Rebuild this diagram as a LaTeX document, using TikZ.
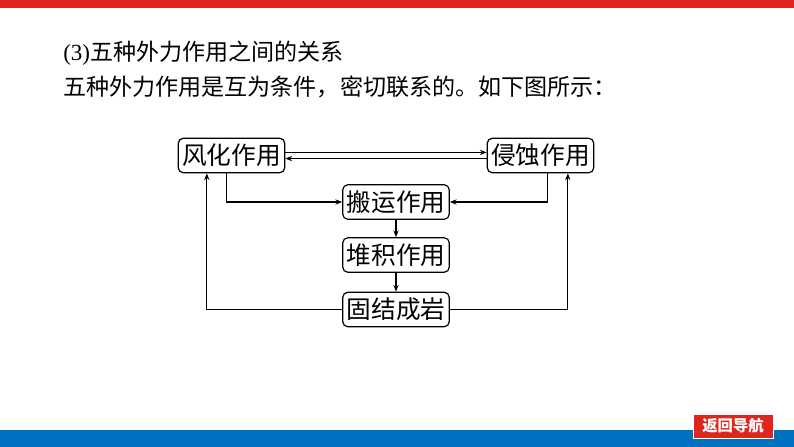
\documentclass[tikz,border=0pt]{standalone}
\usepackage{fontspec}
\setmainfont{Liberation Serif}
\newfontfamily\cjk{Noto Sans CJK SC}
\usetikzlibrary{arrows.meta,positioning}
\definecolor{barred}{RGB}{222,38,28}
\definecolor{barblue}{RGB}{0,112,192}
\tikzstyle{process}=[draw,line width=0.9pt,rounded corners=4pt,minimum width=80pt,minimum height=26pt,inner sep=1pt,font=\cjk\fontsize{18.5}{20}\selectfont]
\tikzstyle{flow} = [draw,line width=0.8pt,-{Stealth[length=5pt,width=4pt]}]
\tikzstyle{caption} = [anchor=west,inner sep=0pt,font=\fontsize{17.3}{20}\selectfont]
\tikzstyle{navbutton} = [fill=barred,draw=white,line width=0.6pt,minimum width=60pt,minimum height=18pt,inner sep=1pt,text=white,font=\cjk\bfseries\fontsize{11.5}{12}\selectfont]

\begin{document}
\begin{tikzpicture}[x=0.75pt,y=-0.75pt]
\useasboundingbox (0,0) rectangle (794,447);

% Page frame: bars and button
\fill[barred] (0,0) rectangle (794,7.5);
\fill[barblue] (0,430) rectangle (794,447);
\node[navbutton] (nav) at (733,426) {返回导航};

% Heading lines
\node[caption] (head) at (63,53) {(3){\cjk 五种外力作用之间的关系}};
\node[caption] (intro) at (63,87) {\cjk 五种外力作用是互为条件，密切联系的。如下图所示：};

% First we draw the processes
\foreach \pos / \name / \label in {{(231.5,155.5)/wind/风化作用},
{(540.5,155.5)/erode/侵蚀作用},
{(396,202)/carry/搬运作用},
{(396,255)/deposit/堆积作用},
{(396,309.5)/lithify/固结成岩}}
\node[process] (\name) at \pos {\label};

% Then connect them
\path[flow] ([yshift=2.3pt]wind.east) -- ([yshift=2.3pt]erode.west);
\path[flow] ([yshift=-2.3pt]erode.west) -- ([yshift=-2.3pt]wind.east);
\path[flow] ([xshift=-4pt]wind.south) |- (carry.west);
\path[flow] ([xshift=5.5pt]erode.south) |- (carry.east);
\foreach \source/ \dest in {carry/deposit,deposit/lithify}
\path[flow] (\source) -- (\dest);
\path[flow] (lithify.west) -| ([xshift=-18.5pt]wind.south);
\path[flow] (lithify.east) -| ([xshift=20.5pt]erode.south);

\end{tikzpicture}
\end{document}
